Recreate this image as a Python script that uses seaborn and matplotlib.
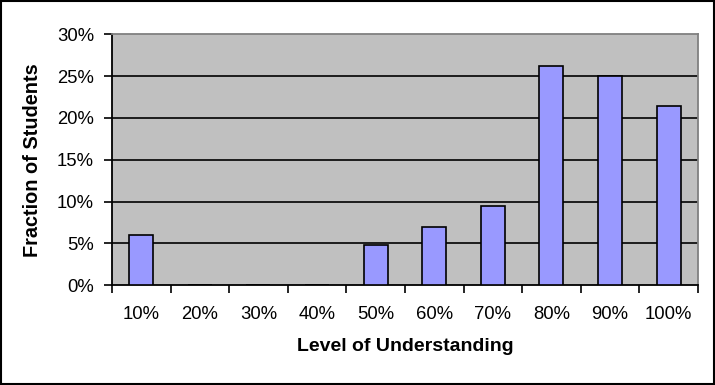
import matplotlib
matplotlib.use("Agg")
import matplotlib.pyplot as plt
import seaborn as sns
import pandas as pd
import numpy as np
from matplotlib.ticker import FixedLocator, PercentFormatter

levels = ["10%", "20%", "30%", "40%", "50%", "60%", "70%", "80%", "90%", "100%"]
fraction = [6.0, 0.0, 0.0, 0.0, 4.8, 7.0, 9.5, 26.2, 25.0, 21.4]
y_ticks = [0, 5, 10, 15, 20, 25, 30]

sns.set_theme(style="white")
plt.rcParams['font.family'] = ['Liberation Sans', 'DejaVu Sans']

df = pd.DataFrame({"level": levels, "fraction": fraction})

fig = plt.figure(figsize=(7.15, 3.85), dpi=100)
ax = fig.add_axes([0.1566, 0.259, 0.8196, 0.652])
ax.set_facecolor("#C0C0C0")

sns.barplot(data=df, x="level", y="fraction", order=levels, color="#9999FF",
            saturation=1, width=0.41, edgecolor="black", linewidth=1.2, ax=ax, zorder=3)

ax.set_xlim(-0.5, len(levels) - 0.5)
ax.set_ylim(0, 30)
ax.yaxis.set_major_locator(FixedLocator(y_ticks))
ax.yaxis.set_major_formatter(PercentFormatter(decimals=0))
for t in y_ticks[1:-1]:
    ax.axhline(t, color="black", linewidth=1.2, zorder=1)

ax.xaxis.set_minor_locator(FixedLocator(np.arange(-0.5, len(levels), 1.0)))
ax.tick_params(axis="x", which="major", length=0, pad=15, labelsize=13.3, colors="black")
ax.tick_params(axis="x", which="minor", length=6, width=1.2, direction="out", color="black", bottom=True)
ax.tick_params(axis="y", which="major", length=6, width=1.2, direction="out", pad=7, labelsize=13.3,
               left=True, colors="black")

for s in ["left", "bottom"]:
    ax.spines[s].set_visible(True)
    ax.spines[s].set_color("black")
    ax.spines[s].set_linewidth(1.3)
for s in ["top", "right"]:
    ax.spines[s].set_visible(True)
    ax.spines[s].set_color("#808080")
    ax.spines[s].set_linewidth(1.3)

ax.set_xlabel("Level of Understanding", fontsize=14, fontweight="bold", labelpad=11, color="black")
ax.set_ylabel("Fraction of Students", fontsize=14.3, fontweight="bold", labelpad=11, color="black")

border = plt.Rectangle((0.0015, 0.002), 0.997, 0.996, transform=fig.transFigure,
                       fill=False, edgecolor="black", linewidth=1.5)
fig.patches.append(border)

fig.savefig("out.png", dpi=100)
